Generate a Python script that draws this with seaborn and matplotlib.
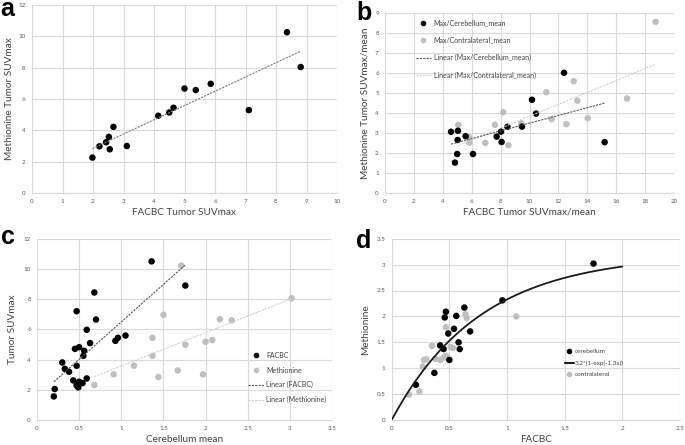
import numpy as np
import pandas as pd
import matplotlib
matplotlib.use("Agg")
import matplotlib.pyplot as plt
import seaborn as sns
from matplotlib.lines import Line2D

sns.set_theme(style="white")
plt.rcParams['font.family'] = ['Lato', 'DejaVu Sans']

# ---------------- data ----------------
# panel a
a_facbc = [1.98, 2.21, 2.43, 2.52, 2.55, 2.67, 3.11, 4.14, 4.50, 4.64, 5.00, 5.37, 5.86, 7.11, 8.36, 8.81]
a_met = [2.26, 2.98, 3.24, 3.58, 2.79, 4.22, 3.00, 4.93, 5.14, 5.44, 6.67, 6.57, 6.97, 5.29, 10.26, 8.04]

# panel b
b_cer_x = [4.57, 5.05, 5.03, 5.00, 4.84, 5.58, 6.09, 7.73, 8.03, 8.07, 8.47, 9.48, 10.17, 10.45, 12.39, 15.20]
b_cer_y = [3.06, 3.11, 2.65, 1.95, 1.52, 2.84, 1.95, 2.82, 3.07, 2.55, 3.31, 3.32, 4.66, 3.97, 6.01, 2.54]
b_con_x = [5.07, 5.81, 5.84, 6.94, 7.61, 8.19, 8.54, 9.43, 11.16, 11.53, 12.55, 13.06, 13.31, 14.03, 16.75, 18.73]
b_con_y = [3.41, 2.79, 2.52, 2.50, 3.41, 4.04, 2.39, 3.49, 5.04, 3.69, 3.44, 5.59, 4.62, 3.74, 4.72, 8.56]

# panel c
c_facbc_x = [0.20, 0.21, 0.30, 0.33, 0.38, 0.43, 0.45, 0.47, 0.47, 0.47, 0.49, 0.50, 0.50,
             0.54, 0.55, 0.56, 0.59, 0.59, 0.63, 0.68, 0.70, 0.93, 0.96, 1.05, 1.36, 1.76]
c_facbc_y = [1.56, 2.05, 3.81, 3.39, 3.19, 2.62, 4.71, 2.29, 3.59, 7.20, 2.16, 4.82, 2.53,
             2.44, 4.25, 4.58, 5.97, 2.75, 5.09, 8.44, 6.65, 5.24, 5.44, 5.59, 10.50, 8.90]
c_met_x = [0.68, 0.91, 1.15, 1.37, 1.37, 1.44, 1.50, 1.67, 1.71, 1.76, 1.97, 2.00, 2.08, 2.17, 2.31, 3.02]
c_met_y = [2.31, 3.02, 3.59, 4.25, 5.44, 2.84, 6.96, 3.28, 10.22, 4.98, 3.02, 5.18, 5.29, 6.67, 6.59, 8.06]

# panel d
d_cer_x = [0.21, 0.37, 0.42, 0.45, 0.46, 0.47, 0.49, 0.50, 0.54, 0.56, 0.58, 0.59, 0.63, 0.68, 0.96, 1.75]
d_cer_y = [0.68, 0.91, 1.44, 1.37, 1.98, 2.09, 1.67, 1.16, 1.76, 2.01, 1.50, 1.37, 2.17, 1.71, 2.31, 3.02]
d_con_x = [0.15, 0.24, 0.27, 0.28, 0.30, 0.35, 0.38, 0.42, 0.45, 0.47, 0.47, 0.51, 0.53, 0.64, 0.65, 1.08]
d_con_y = [0.49, 0.55, 1.03, 1.16, 1.17, 1.43, 1.18, 1.16, 1.20, 1.24, 1.79, 1.41, 1.39, 2.04, 1.97, 2.00]
fit_A, fit_k, fit_xmax = 3.2, 1.3, 2.0

BLACK = "#000000"
GRAY = "#bfbfbf"
GRID = "#d9d9d9"
TICK = "#595959"

fig = plt.figure(figsize=(6.85, 4.45), dpi=100)
W, H = 685, 445

def add_ax(l, r, t, b):
    return fig.add_axes([l / W, 1 - b / H, (r - l) / W, (b - t) / H])

def style(ax, xlim, xticks, ylim, yticks, xlabel, ylabel, ypad=2):
    ax.set_xlim(*xlim)
    ax.set_ylim(*ylim)
    ax.set_xticks(xticks)
    ax.set_yticks(yticks)
    ax.set_xticklabels([f"{v:g}" for v in xticks])
    ax.set_yticklabels([f"{v:g}" for v in yticks])
    ax.grid(True, color=GRID, linewidth=0.8)
    ax.set_axisbelow(True)
    for s in ["top", "right", "left"]:
        ax.spines[s].set_visible(False)
    ax.spines["bottom"].set_color(GRID)
    ax.spines["bottom"].set_linewidth(0.8)
    ax.tick_params(axis="x", length=0, labelsize=4.5, colors=TICK, pad=4)
    ax.tick_params(axis="y", length=0, labelsize=4.5, colors=TICK, pad=4.5)
    ax.set_xlabel(xlabel, fontsize=7.2, color="#404040", labelpad=3)
    ax.set_ylabel(ylabel, fontsize=7.2, color="#404040", labelpad=ypad)

MS = 22
DASH = (0, (2, 1))

# ---------------- panel a ----------------
ax = add_ax(32, 337, 5, 193)
dfa = pd.DataFrame({"x": a_facbc, "y": a_met})
sns.regplot(data=dfa, x="x", y="y", ax=ax, scatter=False, ci=None, truncate=True,
            line_kws=dict(color="#7f7f7f", lw=0.8, ls=DASH))
sns.scatterplot(data=dfa, x="x", y="y", ax=ax, color=BLACK, s=MS, edgecolor="none")
style(ax, (0, 10), range(0, 11), (0, 12), range(0, 13, 2), "FACBC Tumor SUVmax", "Methionine Tumor SUVmax", ypad=3)

# ---------------- panel b ----------------
ax = add_ax(385, 674, 13, 193)
dfb1 = pd.DataFrame({"x": b_cer_x, "y": b_cer_y})
dfb2 = pd.DataFrame({"x": b_con_x, "y": b_con_y})
sns.regplot(data=dfb2, x="x", y="y", ax=ax, scatter=False, ci=None, truncate=True,
            line_kws=dict(color="#d0d0d0", lw=0.8, ls=DASH))
sns.regplot(data=dfb1, x="x", y="y", ax=ax, scatter=False, ci=None, truncate=True,
            line_kws=dict(color="#595959", lw=0.8, ls=DASH))
sns.scatterplot(data=dfb2, x="x", y="y", ax=ax, color=GRAY, s=MS, edgecolor="none")
sns.scatterplot(data=dfb1, x="x", y="y", ax=ax, color=BLACK, s=MS, edgecolor="none")
style(ax, (0, 20), range(0, 21, 2), (0, 9), range(0, 10), "FACBC Tumor SUVmax/mean",
      "Methionine Tumor SUVmax/mean", ypad=4)
h = [Line2D([], [], marker="o", ls="none", color=BLACK, ms=3),
     Line2D([], [], marker="o", ls="none", color=GRAY, ms=3),
     Line2D([], [], color="#595959", lw=0.8, ls=DASH),
     Line2D([], [], color="#d0d0d0", lw=0.8, ls=DASH)]
ax.legend(h, ["Max/Cerebellum_mean", "Max/Contralateral_mean", "Linear (Max/Cerebellum_mean)",
              "Linear (Max/Contralateral_mean)"], loc="upper left", bbox_to_anchor=(0.085, 1.0),
          frameon=False, fontsize=5, labelspacing=1.5, handlelength=2.2, handletextpad=0.4,
          labelcolor="#404040")

# ---------------- panel c ----------------
ax = add_ax(37, 332, 238.7, 420)
dfc1 = pd.DataFrame({"x": c_facbc_x, "y": c_facbc_y})
dfc2 = pd.DataFrame({"x": c_met_x, "y": c_met_y})
sns.regplot(data=dfc2, x="x", y="y", ax=ax, scatter=False, ci=None, truncate=True,
            line_kws=dict(color="#d0d0d0", lw=0.8, ls=DASH))
sns.regplot(data=dfc1, x="x", y="y", ax=ax, scatter=False, ci=None, truncate=True,
            line_kws=dict(color="#595959", lw=0.8, ls=DASH))
sns.scatterplot(data=dfc2, x="x", y="y", ax=ax, color=GRAY, s=MS, edgecolor="none")
sns.scatterplot(data=dfc1, x="x", y="y", ax=ax, color=BLACK, s=MS, edgecolor="none")
style(ax, (0, 3.5), np.arange(0, 3.51, 0.5), (0, 12), range(0, 13, 2), "Cerebellum mean",
      "Tumor SUVmax", ypad=5)
ax.legend(h, ["FACBC", "Methionine", "Linear (FACBC)", "Linear (Methionine)"],
          loc="upper left", bbox_to_anchor=(0.695, 0.41), frameon=False, fontsize=5,
          labelspacing=1.1, handlelength=2.2, handletextpad=0.4, labelcolor="#404040")

# ---------------- panel d ----------------
ax = add_ax(391.7, 680, 238.7, 420)
dfd1 = pd.DataFrame({"x": d_cer_x, "y": d_cer_y})
dfd2 = pd.DataFrame({"x": d_con_x, "y": d_con_y})
xg = np.linspace(0, fit_xmax, 200)
dfit = pd.DataFrame({"x": xg, "y": fit_A * (1 - np.exp(-fit_k * xg))})
sns.scatterplot(data=dfd2, x="x", y="y", ax=ax, color=GRAY, s=MS, edgecolor="none")
sns.scatterplot(data=dfd1, x="x", y="y", ax=ax, color=BLACK, s=MS, edgecolor="none")
sns.lineplot(data=dfit, x="x", y="y", ax=ax, color="#1a1a1a", lw=1.3)
style(ax, (0, 2.5), np.arange(0, 2.51, 0.5), (0, 3.5), np.arange(0, 3.51, 0.5), "FACBC",
      "Methionine", ypad=5)
hd = [Line2D([], [], marker="o", ls="none", color=BLACK, ms=3),
      Line2D([], [], color="#1a1a1a", lw=1.5),
      Line2D([], [], marker="o", ls="none", color=GRAY, ms=3)]
ax.legend(hd, ["cerebellum", "3.2*(1-exp(-1.3x))", "contralateral"], loc="upper left",
          bbox_to_anchor=(0.58, 0.425), frameon=False, fontsize=4.6, labelspacing=0.95,
          handlelength=1.5, handletextpad=0.1, labelcolor="#404040")

# panel letters
for txt, x, y in [("a", 0, 16), ("b", 356, 20), ("c", 1, 244), ("d", 356, 248)]:
    fig.text(x / W, 1 - y / H, txt, fontsize=18, fontweight="bold", family="Liberation Sans",
             color="black", ha="left", va="baseline")

fig.savefig("out.png", dpi=100)
